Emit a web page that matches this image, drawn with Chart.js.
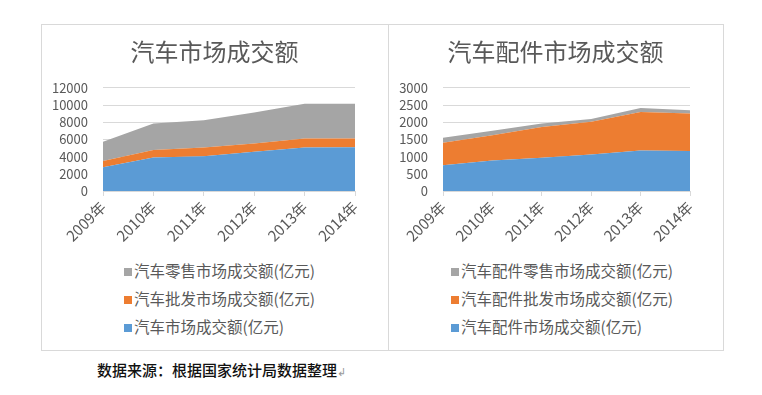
<!DOCTYPE html>
<html>
<head>
<meta charset="utf-8">
<script src="https://cdn.jsdelivr.net/npm/chart.js@4"></script>
<style>
  body { margin: 0; background: #fff; width: 762px; height: 395px; position: relative; overflow: hidden; }
  .frame { position: absolute; left: 41px; top: 24px; width: 683px; height: 327px; border: 1px solid #d9d9d9; box-sizing: border-box; }
  .divider { position: absolute; left: 388px; top: 24px; width: 1px; height: 327px; background: #d9d9d9; }
  canvas { position: absolute; }
  .legend { position: absolute; font: 15.5px 'Noto Sans CJK SC', sans-serif; color: #595959; }
  .legend div { height: 28px; line-height: 28px; white-space: nowrap; }
  .legend span { display: inline-block; width: 8px; height: 8px; margin-right: 2px; vertical-align: 1px; }
  .source { position: absolute; left: 97px; top: 359px; font: 500 15px 'Noto Sans CJK SC', sans-serif; color: #111; }
  .source i { font-style: normal; color: #999; font-size: 11px; }
</style>
</head>
<body>
<div class="frame"></div>
<div class="divider"></div>
<canvas id="chart-car" width="345" height="230" style="left:42px;top:25px"></canvas>
<canvas id="chart-parts" width="333" height="230" style="left:389px;top:25px"></canvas>
<div class="legend" id="legend-car" style="left:124px;top:256px"></div>
<div class="legend" id="legend-parts" style="left:451px;top:256px"></div>
<div class="source">数据来源：根据国家统计局数据整理<i>↲</i></div>
<script>
  'use strict';

  const years = ['2009年', '2010年', '2011年', '2012年', '2013年', '2014年'];

  // 汽车 (亿元)
  const carMarket = [2750, 3900, 4050, 4550, 5050, 5100];
  const carWholesale = [730, 860, 1020, 980, 1060, 1010];
  const carRetail = [2250, 3090, 3170, 3600, 4030, 4030];

  // 汽车配件 (亿元)
  const partsMarket = [750, 890, 970, 1060, 1180, 1160];
  const partsWholesale = [650, 730, 890, 950, 1120, 1090];
  const partsRetail = [145, 130, 100, 80, 115, 100];

  const carTicks = { max: 12000, step: 2000 };
  const partsTicks = { max: 3000, step: 500 };

  const blue = '#5b9bd5';
  const orange = '#ed7d31';
  const gray = '#a5a5a5';
  const textColor = '#595959';
  const gridColor = '#d9d9d9';
  const cjk = "'Noto Sans CJK SC', sans-serif";

  // title spans the whole canvas, not just the padded part
  const centerTitle = {
    id: 'centerTitle',
    afterLayout(chart) {
      const t = chart.titleBlock;
      if (t) {
        t.left = 0;
        t.right = chart.width;
        t.width = chart.width;
      }
    },
  };

  function makeChart(id, legendId, title, series, ticks, yWidth) {
    const ctx = document.getElementById(id).getContext('2d');
    const chart = new Chart(ctx, {
      type: 'line',
      data: {
        labels: years,
        datasets: [
          { label: series[0].label, data: series[0].data, backgroundColor: blue, fill: 'origin' },
          { label: series[1].label, data: series[1].data, backgroundColor: orange, fill: '-1' },
          { label: series[2].label, data: series[2].data, backgroundColor: gray, fill: '-1' },
        ],
      },
      plugins: [centerTitle],
      options: {
        responsive: false,
        animation: false,
        devicePixelRatio: 1,
        layout: { padding: { left: 0, right: 32, top: 0, bottom: 0 } },
        elements: {
          line: { borderWidth: 0, tension: 0 },
          point: { radius: 0 },
        },
        plugins: {
          legend: { display: false },
          tooltip: { enabled: false },
          title: {
            display: true,
            text: title,
            color: textColor,
            font: { family: cjk, size: 24, weight: 'normal', lineHeight: 1.2 },
            padding: { top: 12, bottom: 22 },
          },
        },
        scales: {
          x: {
            offset: false,
            grid: {
              drawOnChartArea: false,
              drawTicks: true,
              tickLength: 5,
              color: gridColor,
            },
            border: { color: gridColor },
            ticks: {
              color: textColor,
              font: { family: cjk, size: 15 },
              minRotation: 45,
              maxRotation: 45,
              autoSkip: false,
              padding: 2,
            },
            afterFit: (scale) => { scale.height = 64; },
          },
          y: {
            stacked: true,
            min: 0,
            max: ticks.max,
            grid: { color: gridColor, drawTicks: false },
            border: { display: false },
            ticks: {
              stepSize: ticks.step,
              autoSkip: false,
              color: textColor,
              font: { family: cjk, size: 13 },
              padding: 15,
              callback: (v) => String(v),
            },
            afterFit: (scale) => { scale.width = yWidth; },
          },
        },
      },
    });

    const legend = document.getElementById(legendId);
    chart.data.datasets.slice().reverse().forEach((ds) => {
      const row = document.createElement('div');
      row.innerHTML = '<span style="background:' + ds.backgroundColor + '"></span>' + ds.label;
      legend.appendChild(row);
    });
    return chart;
  }

  makeChart('chart-car', 'legend-car', '汽车市场成交额', [
    { label: '汽车市场成交额(亿元)', data: carMarket },
    { label: '汽车批发市场成交额(亿元)', data: carWholesale },
    { label: '汽车零售市场成交额(亿元)', data: carRetail },
  ], carTicks, 61);

  makeChart('chart-parts', 'legend-parts', '汽车配件市场成交额', [
    { label: '汽车配件市场成交额(亿元)', data: partsMarket },
    { label: '汽车配件批发市场成交额(亿元)', data: partsWholesale },
    { label: '汽车配件零售市场成交额(亿元)', data: partsRetail },
  ], partsTicks, 54);
</script>
</body>
</html>
